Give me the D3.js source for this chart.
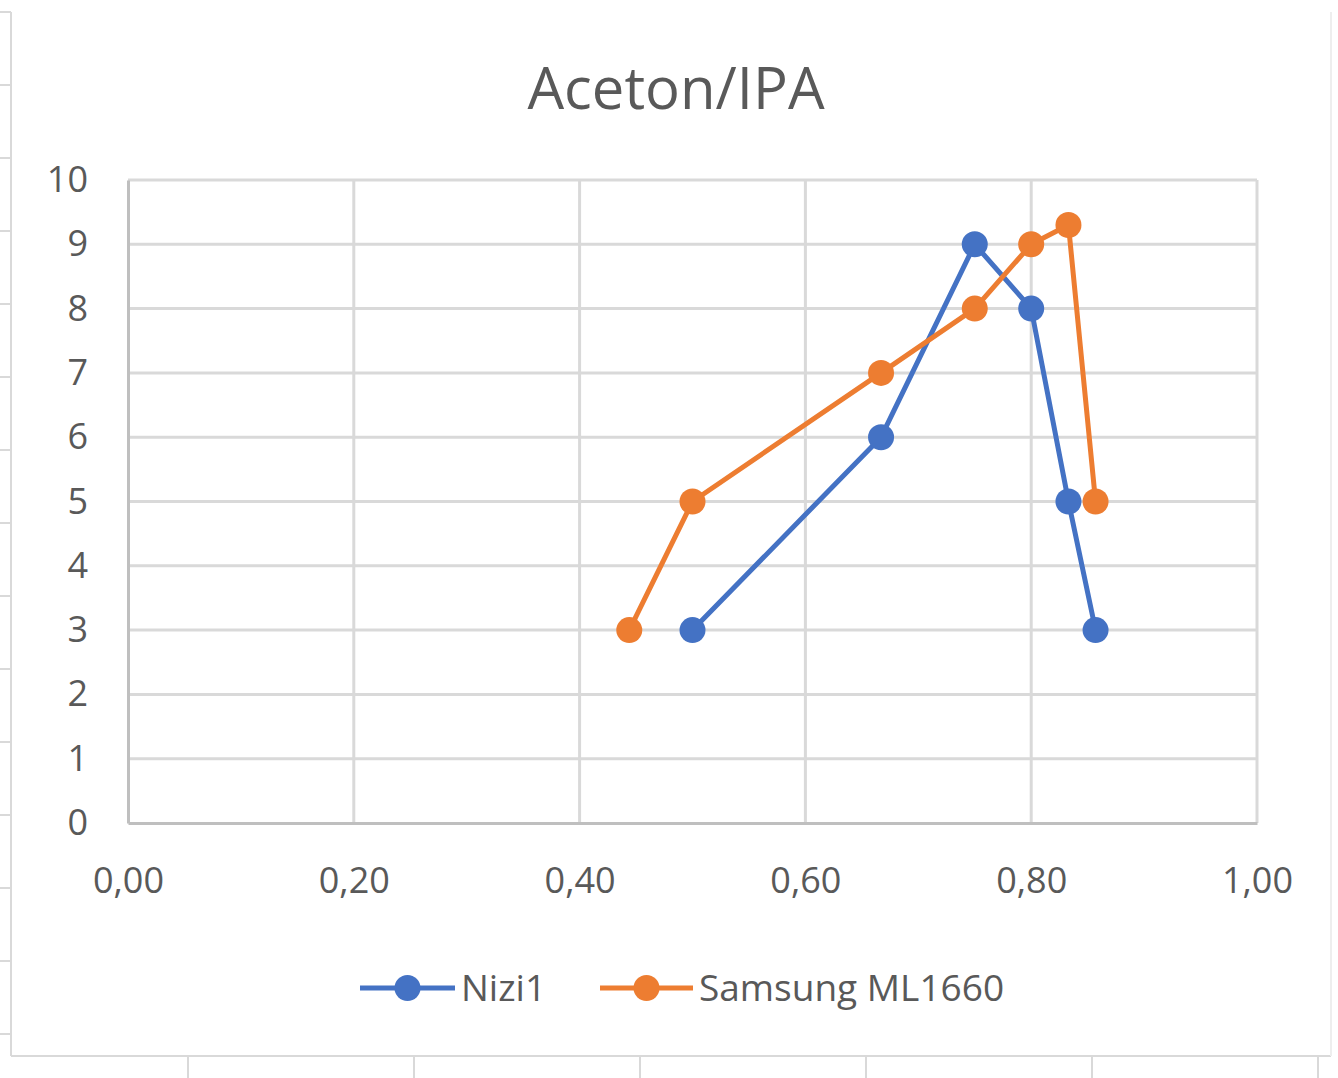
<!DOCTYPE html>
<html><head><meta charset="utf-8">
<script src="https://cdn.jsdelivr.net/npm/d3@7"></script>
<style>html,body{margin:0;padding:0;background:#fff;}</style>
</head><body>
<script>
const title = "Aceton/IPA";
const seriesNames = ["Nizi1", "Samsung ML1660"];
const seriesColors = ["#4472C4", "#ED7D31"];
const niziX = [0.50, 0.667, 0.75, 0.80, 0.833, 0.857];
const niziY = [3, 6, 9, 8, 5, 3];
const samsungX = [0.444, 0.50, 0.667, 0.75, 0.80, 0.833, 0.857];
const samsungY = [3, 5, 7, 8, 9, 9.3, 5];
const xTicks = [0, 0.2, 0.4, 0.6, 0.8, 1.0];
const yTicks = [0,1,2,3,4,5,6,7,8,9,10];

const W = 1338, H = 1078;
const svg = d3.select("body").append("svg").attr("width", W).attr("height", H);
const font = "'Open Sans', Calibri, sans-serif";
const textColor = "#595959";

// sheet background decorations (frame of embedded chart)
const deco = svg.append("g").attr("stroke", "#d9d9d9").attr("stroke-width", 2);
deco.append("line").attr("x1", 11).attr("x2", 11).attr("y1", 12).attr("y2", 1056);
deco.append("line").attr("x1", 11).attr("x2", 1331).attr("y1", 1056).attr("y2", 1056);
deco.append("line").attr("x1", 1331).attr("x2", 1331).attr("y1", 12).attr("y2", 1056).attr("stroke", "#eeeeee");
d3.range(12, 1056, 73).forEach(y => deco.append("line").attr("x1", 0).attr("x2", 11).attr("y1", y).attr("y2", y));
[188, 414, 640, 866, 1092, 1318].forEach(x => deco.append("line").attr("x1", x).attr("x2", x).attr("y1", 1056).attr("y2", 1078));

const L = 128, R = 1257, T = 180, B = 823;
const x = d3.scaleLinear().domain([0, 1]).range([L, R]);
const y = d3.scaleLinear().domain([0, 10]).range([B, T]);
const fmt = d => d3.format(".2f")(d).replace(".", ",");

// gridlines
const grid = svg.append("g");
grid.selectAll("line.h").data(yTicks.filter(d => d > 0)).join("line")
  .attr("x1", L).attr("x2", R).attr("y1", d => y(d)).attr("y2", d => y(d))
  .attr("stroke", "#d9d9d9").attr("stroke-width", 3);
grid.selectAll("line.v").data(xTicks.filter(d => d > 0)).join("line")
  .attr("x1", d => x(d)).attr("x2", d => x(d)).attr("y1", T).attr("y2", B)
  .attr("stroke", "#d9d9d9").attr("stroke-width", 3);

// axes
const xAxis = svg.append("g").attr("transform", `translate(0,${B})`)
  .call(d3.axisBottom(x).tickValues(xTicks).tickFormat(fmt).tickSize(0).tickPadding(44));
xAxis.select(".domain").attr("stroke", "#bfbfbf").attr("stroke-width", 3);
xAxis.selectAll("text").attr("font-family", font).attr("font-size", 36).attr("fill", textColor);
const yAxis = svg.append("g").attr("transform", `translate(${L},0)`)
  .call(d3.axisLeft(y).tickValues(yTicks).tickSize(0).tickPadding(40));
yAxis.select(".domain").attr("stroke", "#bfbfbf").attr("stroke-width", 3);
yAxis.selectAll("text").attr("font-family", font).attr("font-size", 36).attr("fill", textColor);

// title
svg.append("text").attr("x", 676).attr("y", 109).attr("text-anchor", "middle")
  .attr("font-family", font).attr("font-size", 58).attr("fill", textColor).text(title);

// series
const series = [
  {name: seriesNames[0], color: seriesColors[0], xs: niziX, ys: niziY},
  {name: seriesNames[1], color: seriesColors[1], xs: samsungX, ys: samsungY}
];
const line = d3.line().x(d => x(d[0])).y(d => y(d[1]));
series.forEach(s => {
  const pts = s.xs.map((v, i) => [v, s.ys[i]]);
  const g = svg.append("g");
  g.append("path").attr("d", line(pts)).attr("fill", "none")
    .attr("stroke", s.color).attr("stroke-width", 5).attr("stroke-linejoin", "round");
  g.selectAll("circle").data(pts).join("circle")
    .attr("cx", d => x(d[0])).attr("cy", d => y(d[1])).attr("r", 13).attr("fill", s.color);
});

// legend
const legendItems = [
  {x0: 360, x1: 455, tx: 461},
  {x0: 600, x1: 693, tx: 699}
];
const ly = 988;
series.forEach((s, i) => {
  const li = legendItems[i];
  const g = svg.append("g");
  g.append("line").attr("x1", li.x0).attr("x2", li.x1).attr("y1", ly).attr("y2", ly)
    .attr("stroke", s.color).attr("stroke-width", 5);
  g.append("circle").attr("cx", (li.x0 + li.x1) / 2).attr("cy", ly).attr("r", 13).attr("fill", s.color);
  g.append("text").attr("x", li.tx).attr("y", ly + 13).attr("font-family", font)
    .attr("font-size", 37).attr("fill", textColor).text(s.name);
});
</script>
</body></html>
